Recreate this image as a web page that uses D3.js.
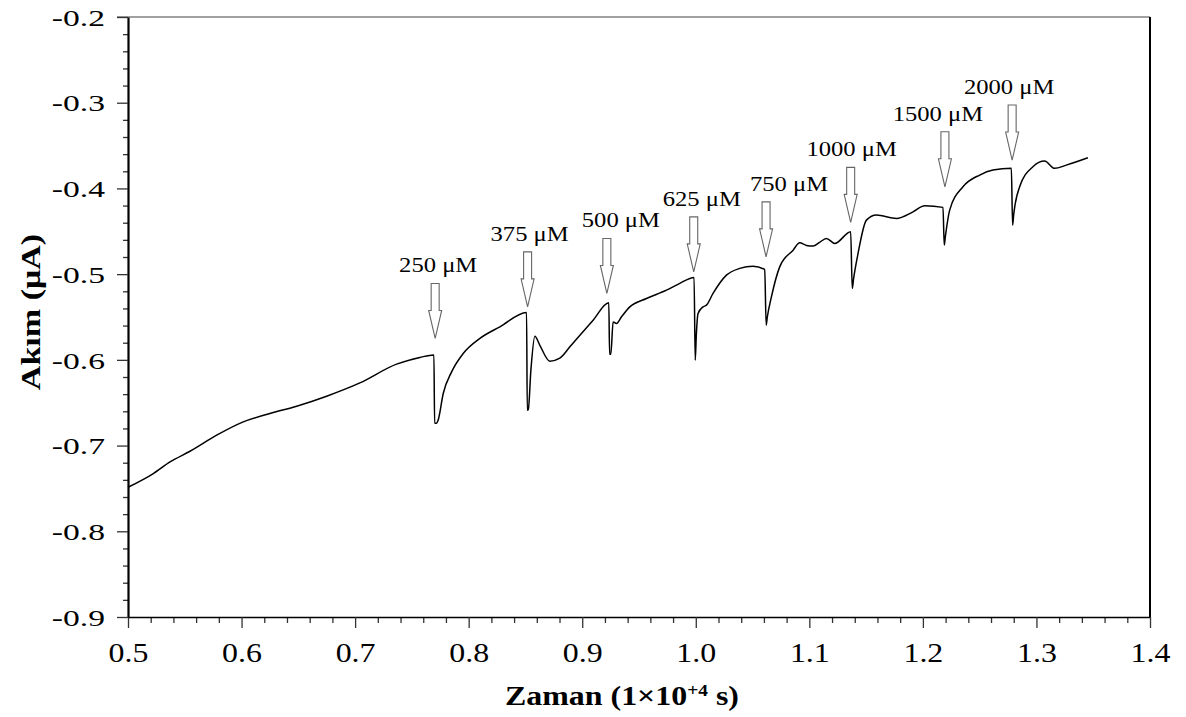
<!DOCTYPE html>
<html>
<head>
<meta charset="utf-8">
<script src="https://cdn.jsdelivr.net/npm/d3@7"></script>
<style>
  html, body { margin: 0; padding: 0; background: #fff; }
  svg { display: block; }
  text { font-family: "Liberation Serif", "Times New Roman", serif; fill: #000; }
</style>
</head>
<body>
<svg id="chart" width="1186" height="717"></svg>
<script>
// Amperometric response: time (×10^4 s) vs current (µA)
const timeVals = [
  0.5000, 0.5223, 0.5370, 0.5546, 0.5781, 0.6015, 0.6250, 0.6485, 0.6749, 0.7042,
  0.7365, 0.7570, 0.7694, 0.7700, 0.7718, 0.7731, 0.7776, 0.7850, 0.7952, 0.8099,
  0.8275, 0.8510, 0.8516, 0.8525, 0.8548, 0.8583, 0.8627, 0.8715, 0.8803, 0.8891,
  0.9096, 0.9234, 0.9241, 0.9252, 0.9272, 0.9302, 0.9346, 0.9419, 0.9566, 0.9742,
  0.9859, 0.9985, 0.9995, 1.0005, 1.0020, 1.0064, 1.0094, 1.0152, 1.0270, 1.0387,
  1.0504, 1.0607, 1.0620, 1.0630, 1.0666, 1.0739, 1.0857, 1.0915, 1.0974, 1.1033,
  1.1090, 1.1150, 1.1224, 1.1364, 1.1378, 1.1390, 1.1429, 1.1503, 1.1591, 1.1767,
  1.1913, 1.2016, 1.2177, 1.2188, 1.2198, 1.2236, 1.2353, 1.2500, 1.2617, 1.2779,
  1.2790, 1.2800, 1.2852, 1.2969, 1.3072, 1.3160, 1.3263, 1.3453
];
const currentVals = [
  -0.7486, -0.7326, -0.7191, -0.7066, -0.6879, -0.6724, -0.6626, -0.6541, -0.6424, -0.6269,
  -0.6050, -0.5972, -0.5942, -0.6739, -0.6739, -0.6704, -0.6392, -0.6140, -0.5926, -0.5750,
  -0.5615, -0.5447, -0.6587, -0.6580, -0.6120, -0.5724, -0.5830, -0.6015, -0.5980, -0.5848,
  -0.5537, -0.5335, -0.5934, -0.5934, -0.5557, -0.5575, -0.5498, -0.5382, -0.5284, -0.5187,
  -0.5108, -0.5038, -0.6004, -0.5700, -0.5459, -0.5382, -0.5362, -0.5225, -0.5012, -0.4933,
  -0.4907, -0.4945, -0.5595, -0.5500, -0.5265, -0.4915, -0.4720, -0.4635, -0.4665, -0.4673,
  -0.4630, -0.4583, -0.4642, -0.4506, -0.5167, -0.5050, -0.4758, -0.4370, -0.4311, -0.4350,
  -0.4273, -0.4203, -0.4221, -0.4661, -0.4560, -0.4253, -0.3981, -0.3844, -0.3786, -0.3766,
  -0.4428, -0.4300, -0.3981, -0.3747, -0.3681, -0.3766, -0.3728, -0.3642
];

// Analyte additions: label, time of injection and arrow tip level
const additionLabels = ["250 μM", "375 μM", "500 μM", "625 μM", "750 μM", "1000 μM", "1500 μM", "2000 μM"];
const additionTimes  = [0.7705, 0.8519, 0.9217, 0.9982, 1.0619, 1.1364, 1.2194, 1.2786];
const additionTips   = [-0.5750, -0.5382, -0.5225, -0.4973, -0.4798, -0.4396, -0.3981, -0.3669];

const xTickValues = [0.5, 0.6, 0.7, 0.8, 0.9, 1.0, 1.1, 1.2, 1.3, 1.4];
const xTickLabels = ["0.5", "0.6", "0.7", "0.8", "0.9", "1.0", "1.1", "1.2", "1.3", "1.4"];
const yTickValues = [-0.2, -0.3, -0.4, -0.5, -0.6, -0.7, -0.8, -0.9];
const yTickLabels = ["-0.2", "-0.3", "-0.4", "-0.5", "-0.6", "-0.7", "-0.8", "-0.9"];

const svg = d3.select("#chart");
const plotLeft = 128, plotRight = 1150, plotTop = 17, plotBottom = 617;

const x = d3.scaleLinear().domain([0.5, 1.4]).range([plotLeft, plotRight]);
const y = d3.scaleLinear().domain([-0.9, -0.2]).range([plotBottom, plotTop]);

// frame: top and right edges
svg.append("line").attr("x1", plotLeft - 11).attr("x2", plotRight).attr("y1", plotTop).attr("y2", plotTop)
  .attr("stroke", "#444").attr("stroke-width", 1.2);
svg.append("line").attr("x1", plotRight).attr("x2", plotRight).attr("y1", plotTop).attr("y2", plotBottom)
  .attr("stroke", "#000").attr("stroke-width", 2);

// minor ticks
const xMinor = d3.range(0, 46).map(i => 0.5 + i * 0.02).filter(v => Math.round(v * 100) % 10 !== 0);
const yMinor = d3.range(0, 36).map(i => -0.9 + i * 0.02).filter(v => Math.abs(Math.round(v * 100)) % 10 !== 0);

const gxMinor = svg.append("g").attr("transform", `translate(0,${plotBottom})`)
  .call(d3.axisBottom(x).tickValues(xMinor).tickSize(6).tickFormat(""));
gxMinor.select(".domain").remove();
const gyMinor = svg.append("g").attr("transform", `translate(${plotLeft},0)`)
  .call(d3.axisLeft(y).tickValues(yMinor).tickSize(5).tickFormat(""));
gyMinor.select(".domain").remove();

// major axes
const gx = svg.append("g").attr("transform", `translate(0,${plotBottom})`)
  .call(d3.axisBottom(x).tickValues(xTickValues).tickSize(11).tickSizeOuter(0)
    .tickFormat((d, i) => xTickLabels[i]));
gx.select(".domain").attr("stroke-width", 1.6);
gx.selectAll("text")
  .attr("y", 0).attr("dy", null)
  .attr("transform", "translate(0,45) scale(1.14,1)")
  .style("font-size", "28px")
  .style("font-family", "Liberation Serif, serif");

const gy = svg.append("g").attr("transform", `translate(${plotLeft},0)`)
  .call(d3.axisLeft(y).tickValues(yTickValues).tickSize(11).tickSizeOuter(0)
    .tickFormat((d, i) => yTickLabels[i]));
gy.select(".domain").attr("stroke-width", 2.2);
gy.selectAll("text")
  .attr("x", -23 / 1.4).attr("dy", "0.34em")
  .attr("transform", "scale(1.4,1)")
  .style("font-size", "24px")
  .style("font-family", "Liberation Serif, serif");

[gx, gy, gxMinor, gyMinor].forEach(g => g.selectAll("line").attr("stroke", "#333").attr("stroke-width", 1.3));

// current trace
const pts = timeVals.map((t, i) => [t, currentVals[i]]);
svg.append("path")
  .datum(pts)
  .attr("fill", "none")
  .attr("stroke", "#000")
  .attr("stroke-width", 1.5)
  .attr("stroke-linejoin", "round")
  .attr("d", d3.line().x(d => x(d[0])).y(d => y(d[1])).curve(d3.curveMonotoneX));

// addition arrows and labels
const shaftLen = 27, headLen = 28, shaftHalf = 4, headHalf = 6.5;
const labelDx = [3, 2, 14, 8, 23, 1, -7, -3];
const arrows = svg.append("g");
additionTimes.forEach((t, i) => {
  const ax = x(t), ay = y(additionTips[i]);
  const yHead = ay - headLen, yTop = yHead - shaftLen;
  const poly = [
    [ax - shaftHalf, yTop], [ax + shaftHalf, yTop], [ax + shaftHalf, yHead],
    [ax + headHalf, yHead], [ax, ay], [ax - headHalf, yHead], [ax - shaftHalf, yHead]
  ];
  arrows.append("path")
    .attr("d", "M" + poly.map(p => p.join(",")).join("L") + "Z")
    .attr("fill", "#fff")
    .attr("stroke", "#666")
    .attr("stroke-width", 1.1);
  arrows.append("text")
    .attr("transform", `translate(${ax + labelDx[i]},${yTop - 11}) scale(1.12,1)`)
    .attr("text-anchor", "middle")
    .style("font-size", "22px")
    .text(additionLabels[i]);
});

// axis titles
const xt = svg.append("text")
  .attr("transform", "translate(505,705) scale(1.14,1)")
  .style("font-size", "28px")
  .style("font-weight", "bold");
xt.append("tspan").text("Zaman (1×10");
xt.append("tspan").attr("dy", -9).style("font-size", "17px").text("+4");
xt.append("tspan").attr("dy", 9).text(" s)");

svg.append("text")
  .attr("transform", "translate(40,312) rotate(-90) scale(1.26,1)")
  .attr("text-anchor", "middle")
  .style("font-size", "27px")
  .style("font-weight", "bold")
  .text("Akım (μA)");
</script>
</body>
</html>
